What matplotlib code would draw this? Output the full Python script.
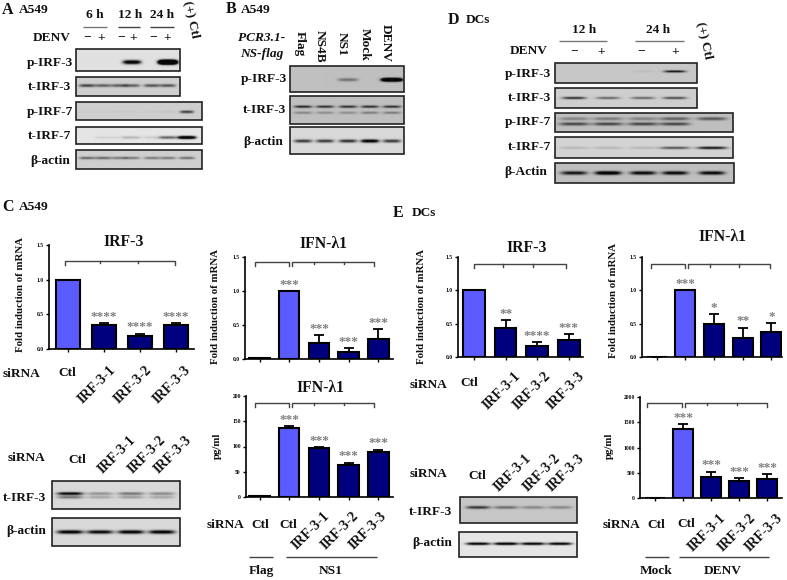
import matplotlib
matplotlib.use("Agg")
import matplotlib.pyplot as plt
import numpy as np
from matplotlib.patches import Rectangle

W, H = 787, 580
SERIF = "Liberation Serif"
LIGHT = "#5b5bff"
NAVY = "#00007f"
STAR_GRAY = "#7f7f7f"

# bar values
c_irf3_vals = [1.0, 0.35, 0.19, 0.35]
c_irf3_errs = [0, 0.02, 0.03, 0.02]
c_irf3_stars = ["", "****", "****", "****"]

c_ifn_vals = [0.02, 1.0, 0.24, 0.11, 0.29]
c_ifn_errs = [0, 0, 0.11, 0.05, 0.15]
c_ifn_stars = ["", "***", "***", "***", "***"]

c_pg_vals = [2, 136, 97, 64, 89]
c_pg_errs = [0, 5, 2, 4, 5]
c_pg_stars = ["", "***", "***", "***", "***"]

e_irf3_vals = [1.0, 0.44, 0.17, 0.25]
e_irf3_errs = [0, 0.11, 0.05, 0.09]
e_irf3_stars = ["", "**", "****", "***"]

e_ifn_vals = [0, 1.0, 0.5, 0.29, 0.37]
e_ifn_errs = [0, 0, 0.14, 0.15, 0.14]
e_ifn_stars = ["", "***", "*", "**", "*"]

e_pg_vals = [8, 1375, 420, 340, 380]
e_pg_errs = [0, 90, 100, 55, 90]
e_pg_stars = ["", "***", "***", "***", "***"]

mrna_ticks = [0.0, 0.5, 1.0, 1.5]
mrna_labels = ["0.0", "0.5", "1.0", "1.5"]
c_pg_ticks = [0, 50, 100, 150, 200]
e_pg_ticks = [0, 500, 1000, 1500, 2000]

# western blot band strength per lane
a_lanes = [87, 103, 119, 132, 152, 168, 187]
a_p_irf3 = [0, 0, 0.0, 1.3, 0, 4.0]
a_t_irf3 = [0.75, 0.6, 0.6, 0.6, 0.65, 0.65]
a_p_irf7 = [0.02, 0.02, 0.03, 0.03, 0.03, 0.05, 0.75]
a_t_irf7 = [0, 0.08, 0.08, 0.2, 0.12, 0.6, 1.6]
a_actin = [0.55, 0.55, 0.45, 0.45, 0.45, 0.45, 0.5]

b_lanes = [303, 325, 348, 370, 392]
b_p_irf3 = [0, 0, 0.45, 0, 3.0]
b_t_irf3_up = [0.9, 0.85, 0.85, 0.85, 0.85]
b_t_irf3_low = [0.35, 0.3, 0.3, 0.4, 0.4]
b_actin = [0.8, 0.8, 0.85, 1.3, 0.8]

d_lanes = [574, 608, 643, 675, 712]
d_p_irf3 = [0, 0, 0.05, 1.0]
d_t_irf3 = [0.85, 0.55, 0.55, 0.7]
d_p_irf7_up = [0.35, 0.4, 0.35, 0.55, 0.6]
d_p_irf7_low = [0.7, 0.7, 0.7, 0.7, 0.0]
d_t_irf7 = [0.15, 0.15, 0.15, 0.65, 1.0]
d_actin = [1.0, 1.4, 1.1, 1.1, 1.1]

c_lanes = [70, 100, 131, 162]
c_t_irf3_up = [1.1, 0.35, 0.5, 0.4]
c_t_irf3_low = [0.5, 0.25, 0.3, 0.25]
c_actin = [1.2, 1.1, 1.2, 1.2]

e_lanes = [478, 506, 533, 560]
e_t_irf3 = [0.8, 0.5, 0.35, 0.35]
e_actin = [1.2, 1.3, 1.2, 1.2]

fig = plt.figure(figsize=(W / 100, H / 100), dpi=100)
ov = fig.add_axes([0, 0, 1, 1], zorder=5)
ov.patch.set_alpha(0)
ov.axis("off")


def label(x, y, s, size=9.6, ha="center", rotation=0, style="normal", color="#111111"):
    ov.text(x, y, s, fontsize=size, ha=ha, va="center", rotation=rotation,
            rotation_mode="anchor" if rotation == 45 else "default",
            family=SERIF, weight="bold", style=style, color=color)


def rule(x0, x1, y, color="#444444", lw=1.0):
    ov.plot([x0, x1], [y, y], color=color, lw=lw, solid_capstyle="butt")


def blot(box, lanes, rows, bg, band_w=8.0, band_h=1.6):
    # rows: (vertical position inside the box, band strength per lane)
    x0, x1, y0, y1 = box
    xs = np.linspace(x0, x1, (x1 - x0) * 3)
    ys = np.linspace(y0, y1, (y1 - y0) * 3)
    xx, yy = np.meshgrid(xs, ys)
    dark = np.zeros_like(xx)
    for frac, levels in rows:
        yc = y0 + frac * (y1 - y0)
        for lane, level in zip(lanes, levels):
            dark += level * np.exp(-((xx - lane) / band_w) ** 4 - ((yy - yc) / band_h) ** 2)
    img = bg * (1 - np.clip(dark, 0, 1)) + 0.03
    ov.imshow(img, extent=(x0, x1, y1, y0), cmap="gray", vmin=0, vmax=1,
              aspect="auto", interpolation="bilinear", zorder=1)
    ov.add_patch(Rectangle((x0, y0), x1 - x0, y1 - y0, fill=False, ec="#222222", lw=1.2, zorder=2))


def bar_panel(x0, x1, y_zero, y_top, c0, sp, bar_w, vals, errs, stars, ymax, ticks, ticklabels,
              level, left=None, right=None, mid=(), star_off=4.5):
    ax = fig.add_axes([x0 / W, 1 - y_zero / H, (x1 - x0) / W, (y_zero - y_top) / H], zorder=3)
    ax.patch.set_alpha(0)
    xpos = np.arange(len(vals))
    colors = [LIGHT if (len(vals) == 4 and i == 0) or (len(vals) == 5 and i == 1) else NAVY
              for i in xpos]
    ax.bar(xpos, vals, width=bar_w / sp, color=colors, edgecolor="black", linewidth=1.5)
    ax.errorbar(xpos, vals, yerr=[np.zeros(len(errs)), errs], fmt="none", ecolor="black",
                elinewidth=1.3, capsize=3.4, capthick=1.3)
    for i, s in enumerate(stars):
        if s:
            ax.annotate(s, (i, vals[i] + errs[i]), xytext=(0, star_off), textcoords="offset points",
                        ha="center", va="center", fontsize=9.5, color=STAR_GRAY, family=SERIF, weight="bold")
    ax.set_xlim((x0 - c0) / sp, (x1 - c0) / sp)
    ax.set_ylim(0, ymax)
    ax.set_xticks(xpos)
    ax.set_xticklabels([])
    ax.set_yticks(ticks)
    ax.set_yticklabels(ticklabels, fontsize=4, family=SERIF, weight="bold")
    ax.tick_params(axis="both", length=2.5, width=1.0, pad=1.2)
    for side in ("top", "right"):
        ax.spines[side].set_visible(False)
    ax.spines["left"].set_linewidth(1.2)
    ax.spines["bottom"].set_linewidth(1.2)
    drop = ymax * 0.04
    for span in (left, right):
        if span:
            ax.plot([span[0], span[0], span[1], span[1]], [level - drop, level, level, level - drop],
                    color="#444444", lw=1.0, clip_on=False)
    for m in mid:
        ax.plot([m, m], [level - drop * 0.6, level], color="#444444", lw=1.0, clip_on=False)
    return ax


# panel A
label(2, 10, "A", size=11.5, ha="left")
label(19, 10, "A549", ha="left")
for x, s in zip([95, 130, 162], ["6 h", "12 h", "24 h"]):
    label(x, 15, s)
rule(83, 107, 27, color="#777777")
rule(118, 140, 27)
rule(150, 174, 27)
label(71, 38, "DENV", ha="right")
for x, s in zip([87, 101, 121, 133, 153, 167], "\u2212+\u2212+\u2212+"):
    label(x, 38, s)
label(192, 19, "(+) Ctl", rotation=-78)
blot((76, 180, 49, 71), a_lanes, [(0.6, a_p_irf3)], 0.85, band_w=9, band_h=2.0)
blot((76, 180, 77, 96), a_lanes, [(0.45, a_t_irf3)], 0.78, band_h=1.5)
blot((76, 202, 102, 120), a_lanes, [(0.55, a_p_irf7)], 0.78, band_w=7, band_h=1.4)
blot((76, 202, 127, 144), a_lanes, [(0.62, a_t_irf7)], 0.87, band_w=9, band_h=1.5)
blot((76, 202, 150, 169), a_lanes, [(0.42, a_actin)], 0.78, band_w=8, band_h=1.3)
for y, s, xr in zip([63, 87, 112, 136, 161], ["p-IRF-3", "t-IRF-3", "p-IRF-7", "t-IRF-7", "\u03b2-actin"],
                    [73, 71, 73, 71, 70]):
    label(xr, y, s, ha="right")

# panel B
label(226, 9, "B", size=11.5, ha="left")
label(241, 10, "A549", ha="left")
label(262, 38, "PCR3.1-", style="italic")
label(262, 54, "NS-flag", style="italic")
for x, y, s in zip([300, 320, 342, 365, 386], [44, 46, 44, 44, 43], ["Flag", "NS4B", "NS1", "Mock", "DENV"]):
    label(x, y, s, rotation=-90)
blot((290, 404, 66, 92), b_lanes, [(0.53, b_p_irf3)], 0.72, band_w=10, band_h=1.6)
blot((290, 404, 96, 124), b_lanes, [(0.38, b_t_irf3_up), (0.6, b_t_irf3_low)], 0.72, band_w=9, band_h=1.2)
blot((290, 404, 127, 154), b_lanes, [(0.52, b_actin)], 0.82, band_w=9, band_h=1.6)
for y, s, xr in zip([79, 110, 142], ["p-IRF-3", "t-IRF-3", "\u03b2-actin"], [287, 286, 283]):
    label(xr, y, s, ha="right")

# panel D
label(448, 20, "D", size=11.5, ha="left")
label(466, 20, "DCs", ha="left")
label(584, 30, "12 h")
label(658, 30, "24 h")
rule(559, 607, 41, color="#777777")
rule(635, 684, 41, color="#777777")
label(548, 51, "DENV", ha="right")
for x, s in zip([574, 601, 641, 675], "\u2212+\u2212+"):
    label(x, 52, s)
label(705, 40, "(+) Ctl", rotation=-78)
blot((555, 697, 63, 83), d_lanes, [(0.42, d_p_irf3)], 0.75, band_w=11, band_h=1.1)
blot((555, 697, 88, 108), d_lanes, [(0.5, d_t_irf3)], 0.78, band_w=12, band_h=1.2)
blot((555, 733, 113, 132), d_lanes, [(0.3, d_p_irf7_up), (0.58, d_p_irf7_low)], 0.72, band_w=15, band_h=1.6)
blot((555, 733, 137, 158), d_lanes, [(0.52, d_t_irf7)], 0.8, band_w=15, band_h=1.3)
blot((555, 734, 163, 183), d_lanes, [(0.5, d_actin)], 0.72, band_w=13, band_h=1.8)
for y, s, xr in zip([74, 98, 122, 147, 172], ["p-IRF-3", "t-IRF-3", "p-IRF-7", "t-IRF-7", "\u03b2-Actin"],
                    [551, 551, 551, 551, 547]):
    label(xr, y, s, ha="right")

# panel C
label(2, 207, "C", size=11.5, ha="left")
label(19, 207, "A549", ha="left")
label(124, 242, "IRF-3", size=11.3)
label(21, 295, "Fold induction of mRNA", size=7.8, rotation=90)
bar_panel(49, 194, 349, 245, 68, 36, 24.5, c_irf3_vals, c_irf3_errs, c_irf3_stars, 1.5,
          mrna_ticks, mrna_labels, 1.27, right=(-0.08, 2.97), mid=(0.89, 1.94))
label(3, 374, "siRNA", ha="left")
label(67, 373, "Ctl")
for x, s in zip([97, 133, 172], ["IRF-3-1", "IRF-3-2", "IRF-3-3"]):
    label(x, 385, s, size=10.2, rotation=45)

label(8, 458, "siRNA", ha="left")
label(77, 460, "Ctl")
for x, s in zip([117, 147, 173], ["IRF-3-1", "IRF-3-2", "IRF-3-3"]):
    label(x, 455, s, size=10.2, rotation=45)
blot((52, 180, 481, 509), c_lanes, [(0.45, c_t_irf3_up), (0.58, c_t_irf3_low)], 0.82, band_w=13, band_h=1.5)
blot((52, 180, 518, 546), c_lanes, [(0.5, c_actin)], 0.82, band_w=13, band_h=1.8)
label(46, 498, "t-IRF-3", ha="right")
label(46, 531, "\u03b2-actin", ha="right")

label(323, 244, "IFN-\u03bb1", size=11.3)
label(216, 307, "Fold induction of mRNA", size=7.8, rotation=90)
bar_panel(245, 393, 359, 257, 259.5, 29.7, 20.5, c_ifn_vals, c_ifn_errs, c_ifn_stars, 1.5,
          mrna_ticks, mrna_labels, 1.43, left=(-0.15, 1.0), right=(1.1, 3.85), mid=(1.83, 2.85))
label(320, 388, "IFN-\u03bb1", size=11.3)
label(217, 446, "pg/ml", size=7.8, rotation=90)
bar_panel(246, 393, 497, 396, 259.5, 29.7, 20.5, c_pg_vals, c_pg_errs, c_pg_stars, 200,
          c_pg_ticks, [str(t) for t in c_pg_ticks], 186, left=(-0.15, 1.0), right=(1.1, 3.85), mid=(1.83, 2.85))
label(207, 525, "siRNA", ha="left")
label(260, 525, "Ctl")
label(288, 525, "Ctl")
for x, s in zip([311, 340, 368], ["IRF-3-1", "IRF-3-2", "IRF-3-3"]):
    label(x, 531, s, size=10.2, rotation=45)
rule(249, 273, 557)
rule(286, 377, 557)
label(261, 571, "Flag")
label(331, 571, "NS1")

# panel E
label(393, 213, "E", size=11.5, ha="left")
label(412, 213, "DCs", ha="left")
label(527, 248, "IRF-3", size=11.3)
label(422, 307, "Fold induction of mRNA", size=7.8, rotation=90)
bar_panel(458, 583, 357, 257, 474, 31.6, 21.7, e_irf3_vals, e_irf3_errs, e_irf3_stars, 1.5,
          mrna_ticks, mrna_labels, 1.39, right=(0.0, 2.9), mid=(0.92, 1.87))
label(410, 385, "siRNA", ha="left")
label(469, 383, "Ctl")
for x, s in zip([502, 532, 566], ["IRF-3-1", "IRF-3-2", "IRF-3-3"]):
    label(x, 391, s, size=10.2, rotation=45)

label(410, 474, "siRNA", ha="left")
label(477, 476, "Ctl")
for x, s in zip([513, 542, 566], ["IRF-3-1", "IRF-3-2", "IRF-3-3"]):
    label(x, 473, s, size=10, rotation=45)
blot((460, 577, 497, 523), e_lanes, [(0.4, e_t_irf3)], 0.75, band_w=12, band_h=1.5)
blot((459, 577, 532, 557), e_lanes, [(0.47, e_actin)], 0.87, band_w=12, band_h=1.3)
label(452, 512, "t-IRF-3", ha="right")
label(452, 543, "\u03b2-actin", ha="right")

label(722, 237, "IFN-\u03bb1", size=11.3)
label(614, 301, "Fold induction of mRNA", size=7.8, rotation=90)
bar_panel(642, 782, 357, 257, 656.5, 28.7, 20, e_ifn_vals, e_ifn_errs, e_ifn_stars, 1.5,
          mrna_ticks, mrna_labels, 1.39, left=(-0.2, 1.0), right=(1.1, 3.95), mid=(1.85, 2.88))
label(609, 446, "pg/ml", size=7.8, rotation=90)
bar_panel(640, 782, 498, 397, 655, 28, 20, e_pg_vals, e_pg_errs, e_pg_stars, 2000,
          e_pg_ticks, [str(t) for t in e_pg_ticks], 1881, left=(-0.28, 0.96), right=(1.07, 4.0), mid=(1.86, 2.93))
label(603, 525, "siRNA", ha="left")
label(656, 525, "Ctl")
label(686, 524, "Ctl")
for x, s in zip([707, 737, 764], ["IRF-3-1", "IRF-3-2", "IRF-3-3"]):
    label(x, 533, s, size=10.2, rotation=45)
rule(645, 669, 557)
rule(679, 769, 557)
label(656, 571, "Mock")
label(723, 571, "DENV")

ov.set_xlim(0, W)
ov.set_ylim(H, 0)
fig.savefig("out.png", dpi=100)
plt.close(fig)
